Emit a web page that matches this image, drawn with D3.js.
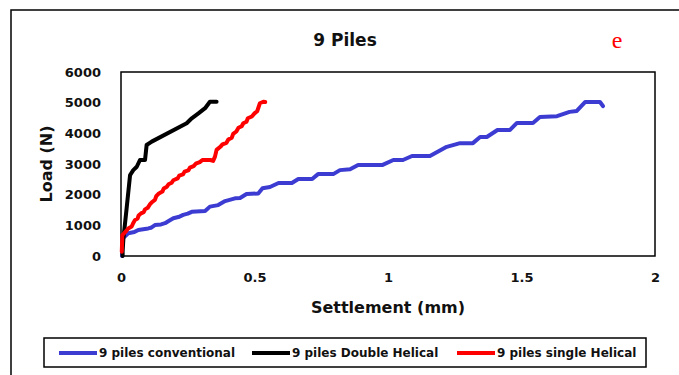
<!DOCTYPE html>
<html>
<head>
<meta charset="utf-8">
<script src="https://cdn.jsdelivr.net/npm/d3@7"></script>
<style>
  body { margin: 0; background: #fff; }
  text { font-family: "DejaVu Sans", sans-serif; font-weight: bold; fill: #111; }
</style>
</head>
<body>
<div id="chart"></div>
<script>
// settlement (mm), load (N)
const conventional = [
  [0.004, 0], [0.004, 250], [0.006, 570], [0.027, 740], [0.05, 780], [0.065, 850],
  [0.102, 900], [0.112, 920], [0.127, 1010], [0.15, 1030], [0.165, 1070], [0.18, 1150],
  [0.196, 1230], [0.215, 1270], [0.233, 1340], [0.25, 1380], [0.265, 1440], [0.315, 1470],
  [0.333, 1610], [0.364, 1660], [0.39, 1790], [0.427, 1880], [0.446, 1890], [0.47, 2020],
  [0.514, 2040], [0.53, 2210], [0.558, 2250], [0.59, 2380], [0.64, 2380],
  [0.664, 2510], [0.716, 2510], [0.738, 2670], [0.795, 2670], [0.82, 2800], [0.858, 2830],
  [0.888, 2970], [0.98, 2970], [1.02, 3130], [1.056, 3130], [1.09, 3260], [1.157, 3260],
  [1.22, 3560], [1.27, 3680], [1.318, 3680], [1.345, 3880], [1.37, 3880], [1.41, 4110],
  [1.457, 4110], [1.483, 4340], [1.543, 4340], [1.569, 4530], [1.633, 4560], [1.68, 4700],
  [1.707, 4730], [1.738, 5020], [1.794, 5020], [1.805, 4890]
];
const doubleHelical = [
  [0.006, 0], [0.006, 140], [0.009, 570], [0.021, 1550], [0.034, 2640], [0.046, 2800],
  [0.059, 2910], [0.071, 3130], [0.09, 3130], [0.096, 3620], [0.115, 3730], [0.246, 4330],
  [0.265, 4490], [0.29, 4650], [0.315, 4820], [0.333, 5030], [0.358, 5030]
];
const singleHelical = [
  [0.003, 140], [0.005, 680], [0.02, 820], [0.027, 900], [0.04, 960], [0.045, 1060],
  [0.052, 1170], [0.062, 1220], [0.066, 1320], [0.075, 1390], [0.085, 1430], [0.09, 1520],
  [0.1, 1570], [0.108, 1680], [0.118, 1770], [0.127, 1830], [0.132, 1950], [0.142, 2040],
  [0.155, 2100], [0.16, 2200], [0.172, 2260], [0.178, 2340], [0.19, 2390], [0.196, 2470],
  [0.212, 2530], [0.218, 2620], [0.232, 2660], [0.238, 2750], [0.252, 2790], [0.258, 2880],
  [0.272, 2930], [0.28, 3010], [0.295, 3060], [0.305, 3130], [0.335, 3130], [0.345, 3100],
  [0.352, 3240], [0.358, 3460], [0.372, 3560], [0.38, 3640], [0.395, 3690], [0.402, 3800],
  [0.415, 3860], [0.42, 3980], [0.432, 4060], [0.44, 4180], [0.452, 4230], [0.458, 4330],
  [0.47, 4380], [0.475, 4490], [0.49, 4550], [0.5, 4650], [0.51, 4720], [0.52, 4980],
  [0.533, 5030], [0.54, 5020]
];
const seriesNames = ["9 piles conventional", "9 piles Double Helical", "9 piles single Helical"];
const seriesColors = ["#3c3cd2", "#000000", "#ff0000"];
const xTicks = [0, 0.5, 1, 1.5, 2];
const yTicks = [0, 1000, 2000, 3000, 4000, 5000, 6000];

const W = 679, H = 375;
const svg = d3.select("#chart").append("svg").attr("width", W).attr("height", H);

// outer frame
svg.append("rect").attr("x", 11).attr("y", 10).attr("width", 700).attr("height", 400)
  .attr("fill", "none").attr("stroke", "#000").attr("stroke-width", 1.5);

const plot = {left: 121, right: 655, top: 72, bottom: 256};
const x = d3.scaleLinear().domain([0, 2]).range([plot.left, plot.right]);
const y = d3.scaleLinear().domain([0, 6000]).range([plot.bottom, plot.top]);

svg.append("text").attr("x", 345).attr("y", 46).attr("text-anchor", "middle")
  .style("font-size", "17px").text("9 Piles");
svg.append("text").attr("x", 617).attr("y", 48).attr("text-anchor", "middle")
  .style("font-family", "'Liberation Serif', serif").style("font-weight", "normal")
  .style("font-size", "24px").style("fill", "#ff0000").text("e");

// axes (labels only)
const xAxis = svg.append("g").attr("transform", `translate(0,${plot.bottom + 14})`)
  .call(d3.axisBottom(x).tickValues(xTicks).tickSize(0).tickFormat(d3.format("")));
xAxis.select(".domain").remove();
xAxis.selectAll("text").style("font-size", "13px").style("font-family", null).attr("fill", "#111");

const yAxis = svg.append("g").attr("transform", `translate(${plot.left - 17},0)`)
  .call(d3.axisLeft(y).tickValues(yTicks).tickSize(0).tickFormat(d3.format("d")));
yAxis.select(".domain").remove();
yAxis.selectAll("text").style("font-size", "13px").style("font-family", null).attr("fill", "#111");

svg.append("rect").attr("x", plot.left).attr("y", plot.top)
  .attr("width", plot.right - plot.left).attr("height", plot.bottom - plot.top)
  .attr("fill", "none").attr("stroke", "#000").attr("stroke-width", 1.5);

const line = d3.line().x(d => x(d[0])).y(d => y(d[1]));
[conventional, doubleHelical, singleHelical].forEach((s, i) => {
  svg.append("path").datum(s)
    .attr("fill", "none").attr("stroke", seriesColors[i]).attr("stroke-width", 4)
    .attr("stroke-linejoin", "round").attr("stroke-linecap", "round")
    .attr("d", line);
});

svg.append("text").attr("x", 388).attr("y", 313).attr("text-anchor", "middle")
  .style("font-size", "16px").text("Settlement (mm)");
svg.append("text").attr("transform", `translate(52,${(plot.top + plot.bottom) / 2}) rotate(-90)`)
  .attr("text-anchor", "middle").style("font-size", "16px").text("Load (N)");

// legend
svg.append("rect").attr("x", 44).attr("y", 338).attr("width", 602).attr("height", 29)
  .attr("fill", "#fff").attr("stroke", "#000").attr("stroke-width", 1.5);
const legX = [59, 252, 457];
seriesNames.forEach((n, i) => {
  const g = svg.append("g").attr("transform", `translate(${legX[i]},353)`);
  g.append("line").attr("x1", 0).attr("x2", 38).attr("stroke", seriesColors[i]).attr("stroke-width", 4);
  g.append("text").attr("x", 40).attr("dy", "0.35em").style("font-size", "12px").text(n);
});
</script>
</body>
</html>
